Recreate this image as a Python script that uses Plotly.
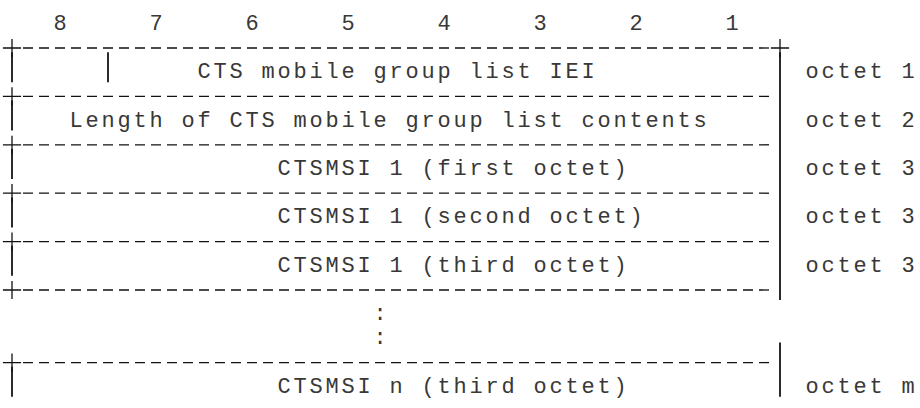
import plotly.graph_objects as go

# ---------------- data ----------------
bit_labels = ["8", "7", "6", "5", "4", "3", "2", "1"]
field_texts = [
    "CTS mobile group list IEI",
    "Length of CTS mobile group list contents",
    "CTSMSI 1 (first octet)",
    "CTSMSI 1 (second octet)",
    "CTSMSI 1 (third octet)",
    "CTSMSI n (third octet)",
]
octet_labels = ["octet 1", "octet 2", "octet 3", "octet 3", "octet 3", "octet m"]
ellipsis_mark = ":"

# ---------------- layout grid (character cells, page pixels) ----------------
W, H = 920, 408
X0, CW = 12.0, 16.0      # x of column 0, column pitch
Y0, LH = 23.8, 24.2      # y of text line 0, line pitch
NCOL = 48                # right border column
FIELD_START = [12, 4, 17, 17, 17, 17]
FIELD_LINES = [2, 4, 6, 8, 10, 15]
BORDER_LINES = [1, 3, 5, 7, 9, 11, 14, 16]
DOT_LINES = [12, 13]
DOT_COL = 23
OCTET_COL = 50
SPARE_SEP_COL = 6
FS = 22
TXT_COLOR = "#383838"


def cx(col):
    return X0 + CW * col


def ly(line):
    return Y0 + LH * line


fig = go.Figure()

# character-cell text
tx, ty, tt = [], [], []


def put(text, col, line):
    for i, ch in enumerate(text):
        if ch != " ":
            tx.append(cx(col + i))
            ty.append(ly(line) + 0.5)
            tt.append(ch)


for k, b in enumerate(bit_labels):
    put(b, 3 + 6 * k, 0)
for t, c, l in zip(field_texts, FIELD_START, FIELD_LINES):
    put(t, c, l)
for o, l in zip(octet_labels, FIELD_LINES):
    put(o, OCTET_COL, l)
for l in DOT_LINES:
    put(ellipsis_mark, DOT_COL, l)

fig.add_trace(go.Scatter(
    x=tx, y=ty, text=tt, mode="text", textposition="middle center",
    textfont=dict(family="Liberation Mono, monospace", size=FS, color=TXT_COLOR),
    hoverinfo="skip", showlegend=False, cliponaxis=False))

# dashed border lines
dx, dy = [], []
for l in BORDER_LINES:
    dx += [cx(1) - 5, cx(NCOL - 1) + 5, None]
    dy += [ly(l), ly(l), None]
fig.add_trace(go.Scatter(
    x=dx, y=dy, mode="lines",
    line=dict(color="#111111", width=1.3, dash="10px,6px"),
    hoverinfo="skip", showlegend=False))

# vertical bars "|"
vx, vy = [], []


def bar(col, line):
    vx.extend([cx(col), cx(col), None])
    vy.extend([ly(line) - 20, ly(line) + 10, None])


for l in FIELD_LINES:
    bar(0, l)
bar(SPARE_SEP_COL, FIELD_LINES[0])
for l in range(2, 12):
    bar(NCOL, l)
for l in (14, 15):
    bar(NCOL, l)
fig.add_trace(go.Scatter(
    x=vx, y=vy, mode="lines",
    line=dict(color="#2a2a2a", width=2),
    hoverinfo="skip", showlegend=False))

# "+" corners
px, py = [], []
for l in BORDER_LINES:
    px.append(cx(0)); py.append(ly(l))
for l in (BORDER_LINES[0], BORDER_LINES[-1]):
    px.append(cx(NCOL)); py.append(ly(l))
fig.add_trace(go.Scatter(
    x=px, y=py, mode="markers",
    marker=dict(symbol="cross-thin", size=13, line=dict(color="#111111", width=1.3)),
    hoverinfo="skip", showlegend=False))

fig.update_layout(
    width=W, height=H,
    margin=dict(l=0, r=0, t=0, b=0),
    paper_bgcolor="white", plot_bgcolor="white",
    hovermode=False,
    xaxis=dict(range=[0, W], visible=False, fixedrange=True),
    yaxis=dict(range=[H, 0], visible=False, fixedrange=True),
)

fig.write_html(
    "out.html",
    config={"displayModeBar": False, "staticPlot": True},
    post_script=(
        "document.body.style.margin='0';"
        "document.body.style.overflow='hidden';"
        "document.documentElement.style.overflow='hidden';"
    ),
)
